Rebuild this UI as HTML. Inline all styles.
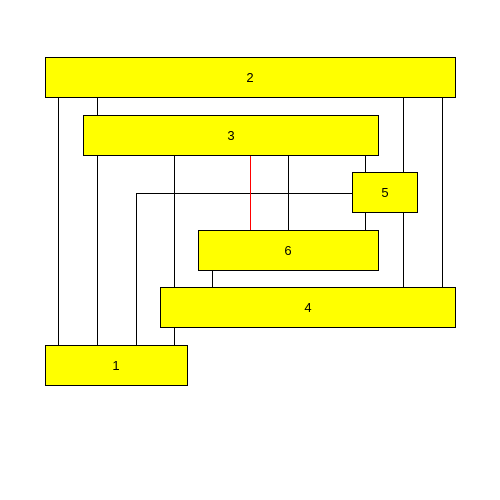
<!DOCTYPE html>
<html>
<head>
<meta charset="utf-8">
<style>
html,body{margin:0;padding:0;background:#fff;}
svg{display:block;}
text{font-family:"Liberation Sans",sans-serif;font-size:13px;}
</style>
</head>
<body>
<svg width="500" height="500" viewBox="0 0 500 500">
  <g stroke="#000" stroke-width="1" fill="none">
    <line x1="58.5" y1="97" x2="58.5" y2="345"/>
    <line x1="97.5" y1="97" x2="97.5" y2="345"/>
    <line x1="174.5" y1="155" x2="174.5" y2="345"/>
    <polyline points="352,193.5 136.5,193.5 136.5,345"/>
    <line x1="250.5" y1="155" x2="250.5" y2="230" stroke="#ff0000"/>
    <line x1="288.5" y1="155" x2="288.5" y2="230"/>
    <line x1="365.5" y1="155" x2="365.5" y2="230"/>
    <line x1="403.5" y1="97" x2="403.5" y2="287"/>
    <line x1="442.5" y1="97" x2="442.5" y2="287"/>
    <line x1="212.5" y1="270" x2="212.5" y2="287"/>
  </g>
  <g fill="#ffff00" stroke="#000" stroke-width="1">
    <rect x="45.5" y="57.5" width="410" height="40"/>
    <rect x="83.5" y="115.5" width="295" height="40"/>
    <rect x="352.5" y="172.5" width="65" height="40"/>
    <rect x="198.5" y="230.5" width="180" height="40"/>
    <rect x="160.5" y="287.5" width="295" height="40"/>
    <rect x="45.5" y="345.5" width="142" height="40"/>
  </g>
  <g fill="#000" text-anchor="middle">
    <text x="250" y="82">2</text>
    <text x="231" y="140">3</text>
    <text x="385" y="197">5</text>
    <text x="288" y="255">6</text>
    <text x="308" y="312">4</text>
    <text x="116" y="370">1</text>
  </g>
</svg>
</body>
</html>
